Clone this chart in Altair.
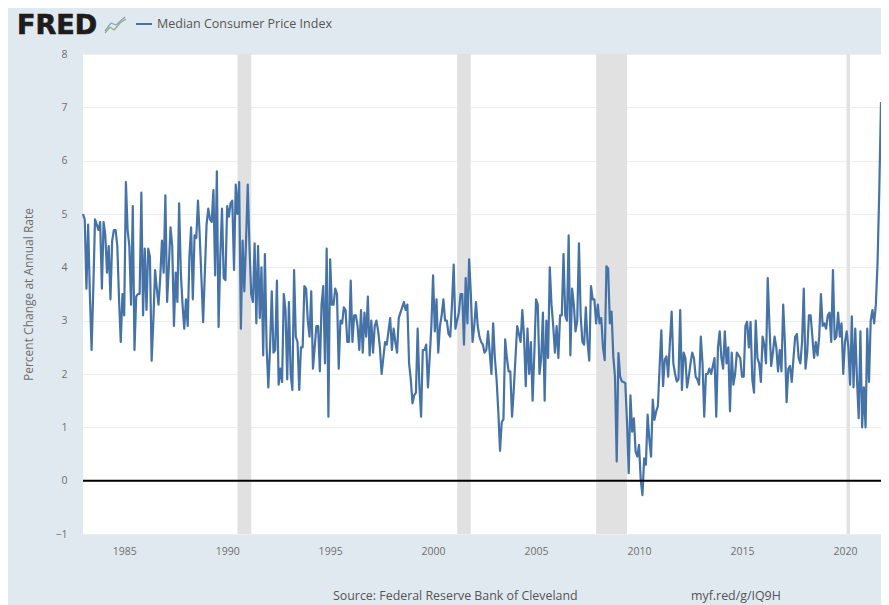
import altair as alt
import pandas as pd

# Monthly median CPI values, one list per year
y1983 = [5.0, 4.9, 3.6, 4.8, 3.5, 2.45, 3.6, 4.9, 4.8, 4.7, 4.85, 3.6]
y1984 = [4.85, 4.6, 3.9, 4.4, 3.4, 4.5, 4.7, 4.7, 4.4, 3.4, 2.6, 3.5]
y1985 = [3.1, 5.6, 4.7, 4.4, 3.3, 5.15, 2.45, 3.45, 3.5, 3.5, 5.4, 3.1]
y1986 = [4.35, 3.2, 4.35, 4.2, 2.25, 3.0, 3.95, 3.6, 3.3, 3.8, 4.5, 3.9]
y1987 = [5.35, 3.35, 4.0, 4.75, 4.4, 2.9, 3.9, 3.35, 5.2, 3.9, 3.3, 2.85]
y1988 = [3.4, 2.9, 4.2, 4.75, 3.4, 4.6, 4.55, 5.25, 4.6, 3.8, 2.97, 3.9]
y1989 = [4.8, 5.1, 4.9, 4.85, 5.45, 3.85, 5.8, 2.88, 4.2, 5.1, 3.8, 3.76]
y1990 = [5.15, 4.95, 5.2, 5.25, 3.95, 5.55, 5.0, 5.6, 2.85, 4.5, 3.55, 4.5]
y1991 = [5.55, 4.4, 3.5, 3.35, 4.45, 2.95, 4.4, 3.05, 4.0, 2.35, 4.25, 2.5]
y1992 = [1.75, 2.5, 3.55, 2.4, 2.45, 3.75, 1.8, 2.1, 1.85, 3.5, 3.2, 1.9]
y1993 = [3.35, 2.0, 1.7, 3.95, 2.7, 2.6, 1.7, 2.5, 2.5, 3.65, 3.6, 3.0]
y1994 = [2.7, 3.55, 2.1, 2.5, 2.9, 2.9, 2.05, 3.3, 3.65, 2.2, 4.35, 1.2]
y1995 = [4.15, 3.3, 3.3, 3.6, 3.5, 2.1, 3.0, 2.95, 3.25, 3.2, 2.6, 2.6]
y1996 = [3.75, 2.6, 3.1, 3.1, 2.9, 2.45, 3.2, 2.4, 3.15, 2.7, 3.45, 2.35]
y1997 = [3.0, 2.4, 2.9, 3.0, 2.8, 2.5, 2.0, 2.3, 2.6, 2.55, 2.8, 3.05]
y1998 = [2.45, 2.85, 2.6, 2.4, 3.05, 3.15, 3.25, 3.35, 3.2, 3.3, 2.2, 1.9]
y1999 = [1.45, 1.6, 1.65, 2.85, 1.8, 1.2, 2.45, 2.45, 2.55, 1.75, 2.3, 2.9]
y2000 = [3.85, 2.8, 3.4, 2.4, 2.9, 3.1, 3.4, 3.0, 3.0, 2.75, 2.7, 3.3]
y2001 = [4.05, 2.85, 3.0, 3.15, 3.5, 3.5, 2.55, 3.8, 2.95, 4.15, 3.5, 2.6]
y2002 = [2.9, 3.35, 2.9, 2.7, 2.6, 2.55, 2.4, 2.45, 2.8, 2.4, 2.0, 2.95]
y2003 = [2.3, 1.9, 1.3, 0.56, 1.1, 1.15, 2.65, 2.3, 2.05, 2.05, 1.2, 1.7]
y2004 = [2.3, 2.9, 2.75, 2.6, 3.2, 2.7, 1.77, 2.85, 2.0, 2.6, 1.5, 2.4]
y2005 = [3.4, 3.3, 2.0, 2.3, 3.15, 1.5, 3.0, 2.3, 4.0, 3.3, 2.9, 2.4]
y2006 = [2.9, 2.3, 3.1, 3.1, 4.25, 3.1, 3.0, 4.6, 2.35, 3.6, 3.3, 2.8]
y2007 = [3.0, 4.45, 3.1, 2.6, 2.55, 3.25, 2.6, 2.25, 3.65, 3.4, 3.4, 2.95]
y2008 = [3.3, 2.95, 3.05, 2.5, 2.26, 4.02, 3.98, 2.95, 3.17, 2.33, 1.95, 0.36]
y2009 = [2.39, 1.95, 1.86, 1.85, 1.83, 1.1, 0.14, 1.6, 0.92, 1.17, 0.55, 0.45]
y2010 = [0.67, 0.02, -0.27, 0.42, 0.3, 1.24, 0.77, 0.45, 1.52, 1.14, 1.3, 1.4]
y2011 = [2.14, 2.82, 1.77, 2.27, 2.33, 1.95, 2.6, 3.17, 2.2, 2.0, 1.86, 1.9]
y2012 = [3.2, 1.7, 2.4, 2.3, 1.75, 1.95, 2.2, 2.4, 2.3, 1.95, 1.9, 1.8]
y2013 = [2.7, 2.2, 1.2, 2.0, 2.0, 2.1, 2.0, 2.15, 2.3, 1.2, 2.5, 2.8]
y2014 = [2.3, 2.1, 2.8, 2.2, 2.5, 1.3, 2.4, 1.8, 2.0, 2.4, 2.35, 2.3]
y2015 = [1.95, 1.95, 2.9, 2.98, 2.5, 2.98, 1.9, 1.65, 3.0, 2.3, 2.2, 1.85]
y2016 = [2.7, 2.55, 2.2, 3.8, 2.9, 2.15, 2.4, 2.7, 2.5, 2.05, 2.45, 2.05]
y2017 = [3.3, 2.6, 1.47, 2.1, 2.15, 1.85, 2.3, 2.7, 2.75, 2.3, 2.2, 2.6]
y2018 = [3.6, 2.1, 2.4, 3.1, 3.1, 2.7, 2.3, 2.6, 2.35, 2.7, 3.5, 2.9]
y2019 = [2.95, 2.85, 3.1, 3.15, 2.6, 3.95, 2.65, 2.7, 3.15, 2.7, 2.95, 2.0]
y2020 = [2.6, 2.8, 2.5, 1.8, 3.08, 1.75, 2.85, 1.9, 1.17, 2.8, 1.0, 1.75]
y2021 = [1.0, 2.85, 1.85, 3.0, 3.2, 2.95, 3.3, 4.1, 5.45, 7.1]

years = [y1983, y1984, y1985, y1986, y1987, y1988, y1989, y1990, y1991, y1992,
         y1993, y1994, y1995, y1996, y1997, y1998, y1999, y2000, y2001, y2002,
         y2003, y2004, y2005, y2006, y2007, y2008, y2009, y2010, y2011, y2012,
         y2013, y2014, y2015, y2016, y2017, y2018, y2019, y2020, y2021]

recession_start = [1990.5, 2001.17, 2007.92, 2020.08]
recession_end = [1991.17, 2001.83, 2009.42, 2020.25]
x_ticks = [1985, 1990, 1995, 2000, 2005, 2010, 2015, 2020]
y_ticks = [-1, 0, 1, 2, 3, 4, 5, 6, 7, 8]
series_name = "Median Consumer Price Index"

rows = []
for i, vals in enumerate(years):
    for j, v in enumerate(vals):
        rows.append({"t": 1983 + i + j / 12, "v": v, "s": series_name})
df = pd.DataFrame(rows)
rec = pd.DataFrame({"a": recession_start, "b": recession_end})

FONT = "Open Sans"
GREY = "#6e6e6e"
x_scale = alt.Scale(domain=[1983, 2021.75], nice=False, zero=False)
y_scale = alt.Scale(domain=[-1, 8], nice=False, zero=False)

shade = alt.Chart(rec).mark_rect(color="#e1e1e1").encode(
    x=alt.X("a:Q", scale=x_scale), x2="b:Q"
)

line = alt.Chart(df).mark_line(strokeWidth=2.2, strokeJoin="round").encode(
    x=alt.X("t:Q", scale=x_scale, title=None,
            axis=alt.Axis(values=x_ticks, format="d", grid=False, ticks=False, domain=False,
                          labelFont=FONT, labelFontSize=10.5, labelColor=GREY, labelPadding=12,
                          labelFlush=False)),
    y=alt.Y("v:Q", scale=y_scale, title="Percent Change at Annual Rate",
            axis=alt.Axis(values=y_ticks, format="d", grid=True, gridColor="#ededed", gridWidth=1,
                          ticks=False, domain=False, labelFont=FONT, labelFontSize=10.5,
                          labelColor=GREY, labelPadding=16, titleFont=FONT, titleFontSize=12,
                          titleFontWeight="normal", titleColor=GREY, titlePadding=19)),
    color=alt.Color("s:N", scale=alt.Scale(domain=[series_name], range=["#4572a7"]),
                    legend=alt.Legend(orient="none", legendX=52, legendY=-39, title=None,
                                      symbolType="stroke", symbolSize=256, symbolStrokeWidth=2,
                                      labelFont=FONT, labelFontSize=12.5, labelColor="#555555",
                                      labelOffset=4, labelLimit=300)),
)

zero = alt.Chart(pd.DataFrame({"z": [0]})).mark_rule(color="black", strokeWidth=2).encode(
    y=alt.Y("z:Q", scale=y_scale)
)


def label(txt, x, y, **kw):
    return alt.Chart(pd.DataFrame({"l": [txt]})).mark_text(align="left", baseline="middle", **kw).encode(
        text="l:N", x=alt.value(x), y=alt.value(y)
    )


logo = label("FRED", -66, -28, font="DejaVu Sans", fontWeight="bold", fontSize=27,
             color="#1c1c1c", stroke="#1c1c1c", strokeWidth=0.7)
source = label("Source: Federal Reserve Bank of Cleveland", 250, 542, font=FONT, fontSize=12.4, color="#555555")
link = label("myf.red/g/IQ9H", 608, 542, font=FONT, fontSize=12.4, color="#555555")


def seg(x1, y1, x2, y2, c):
    return alt.Chart(pd.DataFrame({"k": [0]})).mark_rule(color=c, strokeWidth=1.3).encode(
        x=alt.value(x1), x2=alt.value(x2), y=alt.value(y1), y2=alt.value(y2)
    )


icon = [
    seg(22, -21, 27, -27, "#8fb08a"), seg(27, -27, 31, -24, "#8fb08a"),
    seg(31, -24, 37, -31, "#8fb08a"), seg(37, -31, 43, -35, "#8fb08a"),
    seg(22, -23, 28, -31, "#8aa3b5"), seg(28, -31, 33, -29, "#8aa3b5"),
    seg(33, -29, 42, -37, "#8aa3b5"),
]

chart = alt.layer(shade, line, zero, logo, source, link, *icon).properties(
    width=798, height=480,
    padding={"left": 75, "top": 46, "right": 0, "bottom": 71},
    autosize=alt.AutoSizeParams(type="none"),
    background="#e1e9f0",
).configure_view(fill="white", stroke=None)

chart.save("out.html", embed_options={"renderer": "svg", "actions": False})
